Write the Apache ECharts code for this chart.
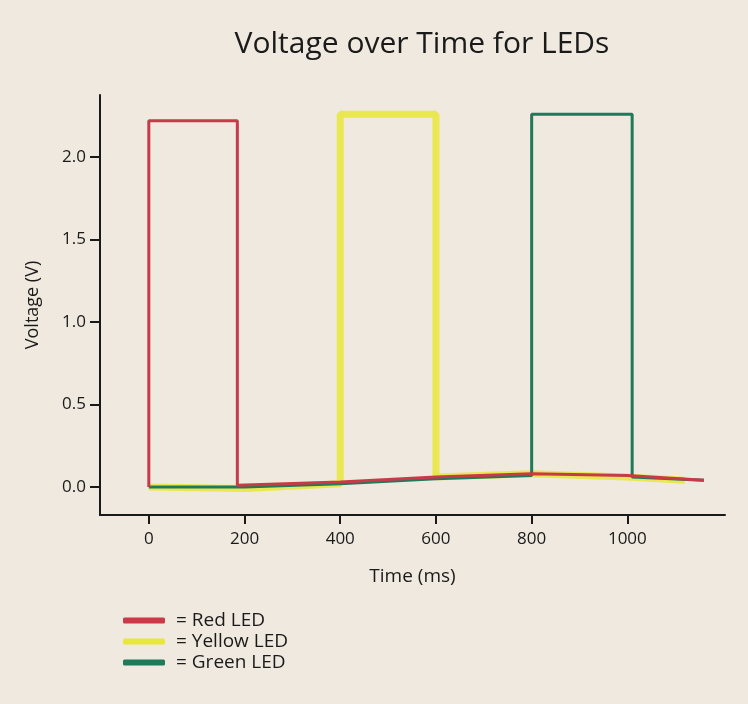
<!DOCTYPE html>
<html><head><meta charset="utf-8">
<script src="https://cdn.jsdelivr.net/npm/echarts@6/dist/echarts.min.js"></script>
<style>html,body{margin:0;padding:0;background:#efe9df;}#c{width:748px;height:704px;}</style>
</head><body><div id="c"></div>
<script>
const xTicks = [0, 200, 400, 600, 800, 1000];
const yTicks = [0, 0.5, 1.0, 1.5, 2.0];
const seriesNames = ['Red LED', 'Yellow LED', 'Green LED'];
const redTime = [0, 0, 185, 185, 400, 600, 800, 1000, 1160];
const redVolt = [0, 2.22, 2.22, 0.01, 0.03, 0.06, 0.08, 0.07, 0.04];
const yellowTime = [0, 200, 400, 400, 600, 600, 800, 1000, 1120];
const yellowVolt = [0.0, -0.01, 0.02, 2.26, 2.26, 0.06, 0.08, 0.06, 0.04];
const greenTime = [0, 200, 400, 600, 800, 800, 1010, 1010, 1160];
const greenVolt = [0.0, 0.0, 0.02, 0.05, 0.07, 2.26, 2.26, 0.06, 0.04];

const pairs = (t, v) => t.map((x, i) => [x, v[i]]);
const font = 'Open Sans';
const chart = echarts.init(document.getElementById('c'), null, {renderer: 'canvas'});
chart.setOption({
  backgroundColor: '#efe9df',
  animation: false,
  title: {
    text: 'Voltage over Time for LEDs',
    left: 417, top: 24, textAlign: 'center',
    textStyle: {fontFamily: font, fontWeight: 'normal', fontSize: 30, color: '#1a1a1a'}
  },
  legend: {
    orient: 'vertical', left: 118, top: 606, itemGap: 2,
    itemWidth: 42, itemHeight: 6, icon: 'roundRect',
    formatter: '= {name}',
    data: seriesNames,
    textStyle: {fontFamily: font, fontSize: 19, color: '#1a1a1a', padding: [0, 0, 0, 6]}
  },
  grid: {left: 100, right: 23, top: 95, bottom: 189, containLabel: false},
  xAxis: {
    type: 'value', min: -102, max: 1204,
    name: 'Time (ms)', nameLocation: 'middle', nameGap: 52,
    nameTextStyle: {fontFamily: font, fontSize: 19, color: '#1a1a1a'},
    axisLine: {show: true, onZero: false, lineStyle: {color: '#1a1a1a', width: 2}},
    axisTick: {show: true, customValues: xTicks, length: 9, lineStyle: {color: '#1a1a1a', width: 2}},
    axisLabel: {customValues: xTicks, margin: 16, fontFamily: font, fontSize: 17, color: '#1a1a1a',
      formatter: v => String(v)},
    splitLine: {show: false}
  },
  yAxis: {
    type: 'value', min: -0.17, max: 2.376,
    name: 'Voltage (V)', nameLocation: 'middle', nameGap: 58, nameRotate: 90,
    nameTextStyle: {fontFamily: font, fontSize: 18, color: '#1a1a1a'},
    axisLine: {show: true, onZero: false, lineStyle: {color: '#1a1a1a', width: 2}},
    axisTick: {show: true, customValues: yTicks, length: 10, lineStyle: {color: '#1a1a1a', width: 2}},
    axisLabel: {customValues: yTicks, margin: 14, fontFamily: font, fontSize: 17, color: '#1a1a1a',
      formatter: v => v.toFixed(1)},
    splitLine: {show: false}
  },
  series: [
    {name: seriesNames[1], type: 'line', data: pairs(yellowTime, yellowVolt), showSymbol: false,
     color: '#e8e83a', lineStyle: {color: '#e8e83a', width: 7, opacity: 0.85}, z: 1},
    {name: seriesNames[2], type: 'line', data: pairs(greenTime, greenVolt), showSymbol: false,
     color: '#1f7a5a', lineStyle: {color: '#1f7a5a', width: 3}, z: 2},
    {name: seriesNames[0], type: 'line', data: pairs(redTime, redVolt), showSymbol: false,
     color: '#c83a48', lineStyle: {color: '#c83a48', width: 3}, z: 3}
  ]
});
</script></body></html>
